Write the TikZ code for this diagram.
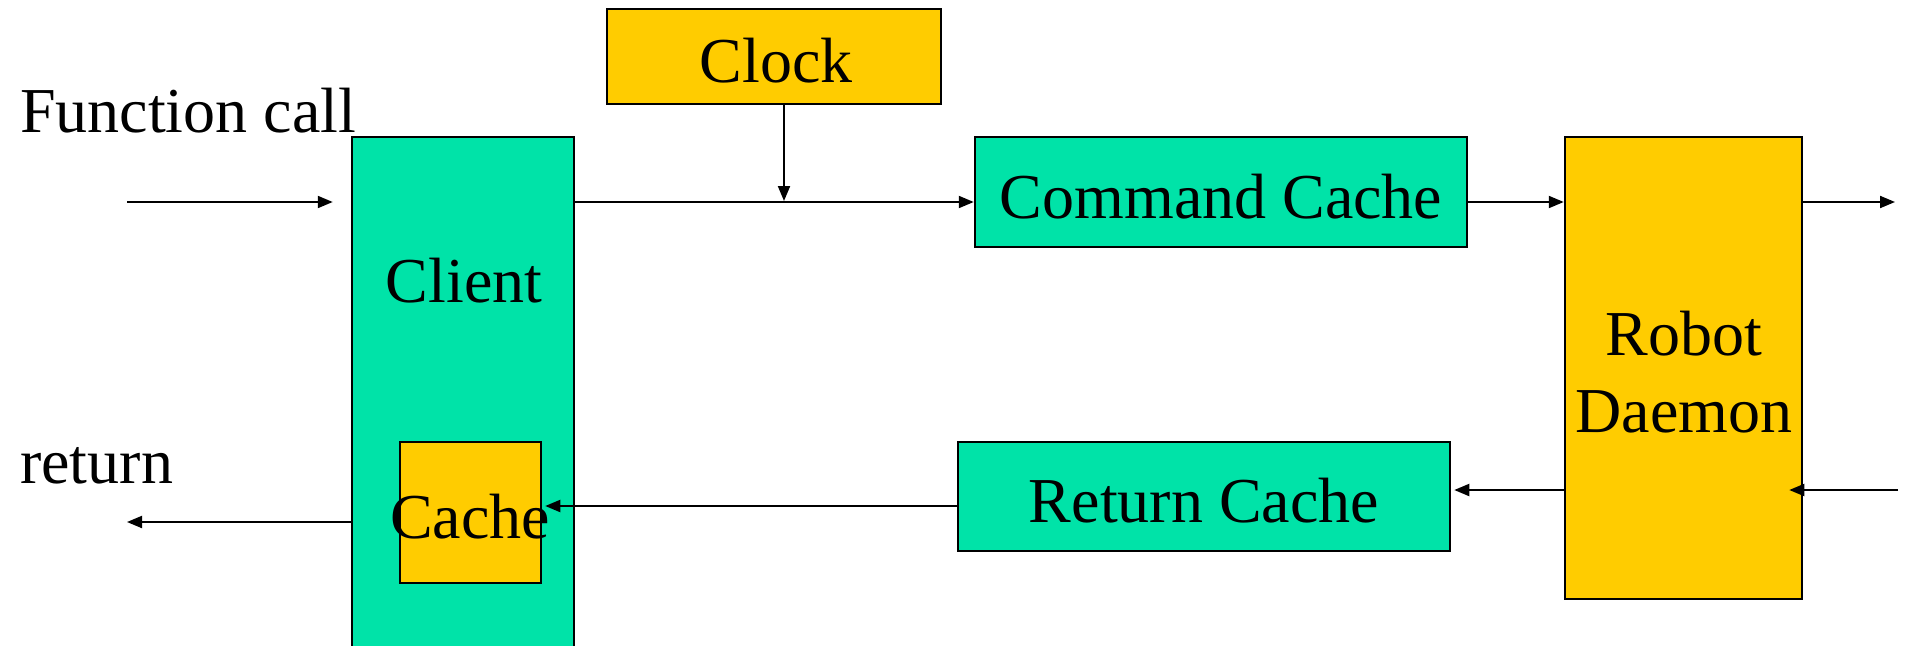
\documentclass[tikz,border=0pt]{standalone}
\usepackage{fontspec}
\setmainfont{Liberation Serif}
\usetikzlibrary{arrows.meta}
\definecolor{boxgreen}{RGB}{0,227,168}
\definecolor{boxyellow}{RGB}{255,204,0}
\begin{document}
\begin{tikzpicture}[x=1pt,y=-1pt,
  blockbox/.style={draw=black,line width=2.5pt,inner sep=0pt,minimum width=#1},
  greenbox/.style={blockbox=#1,fill=boxgreen},
  yellowbox/.style={blockbox=#1,fill=boxyellow},
  lbl/.style={inner sep=0pt,anchor=base,font=\fontsize{64}{77}\selectfont},
  arr/.style={line width=2pt,-{Triangle[length=15pt,width=12pt]}}]
\useasboundingbox (0,0) rectangle (1905,645);

% blocks
\node[yellowbox=334pt,minimum height=95pt] (clock) at (774,56.5) {};
\node[greenbox=222pt,minimum height=523pt] (client) at (463,398.5) {};
\node[greenbox=492pt,minimum height=110pt] (cmd) at (1221,192) {};
\node[yellowbox=237pt,minimum height=462pt] (robot) at (1683.5,368) {};
\node[greenbox=492pt,minimum height=109pt] (ret) at (1204,496.5) {};
\node[yellowbox=141pt,minimum height=141pt] (cache) at (470.5,512.5) {};

% texts
\node[lbl,anchor=base west] (tcall) at (20,132) {Function call};
\node[lbl,anchor=base west] (tret) at (20,483) {return};
\node[lbl] (tclock) at (776,82) {Clock};
\node[lbl] (tclient) at (464,302) {Client};
\node[lbl] (tcmd) at (1221,218) {Command Cache};
\node[lbl] (trobot) at (1684,355) {Robot};
\node[lbl] (tdaemon) at (1684,432) {Daemon};
\node[lbl] (tretc) at (1204,522) {Return Cache};
\node[lbl] (tcache) at (470,538) {Cache};

% free ends of the outer connectors
\coordinate (callin) at (127,202);
\coordinate (cmdout) at (1895,202);
\coordinate (retin) at (1898,490);
\coordinate (retout) at (127,522);
\coordinate (tick) at (784,201);

% forward path
\draw[arr] (callin) -- ([xshift=-18pt]client.west |- callin);
\draw[arr] (client.east |- callin) -- (cmd.west |- callin);
\draw[arr] (clock.south -| tick) -- (tick);
\draw[arr] (cmd.east |- callin) -- (robot.west |- callin);
\draw[arr] (robot.east |- callin) -- (cmdout);

% return path
\draw[arr] (retin) -- ([xshift=-14pt]robot.east |- retin);
\draw[arr] (robot.west |- retin) -- ([xshift=3pt]ret.east |- retin);
\draw[arr] (ret.west |- 0,506) -- ([xshift=3pt]cache.east |- 0,506);
\draw[arr] (client.west |- retout) -- (retout);
\end{tikzpicture}
\end{document}
